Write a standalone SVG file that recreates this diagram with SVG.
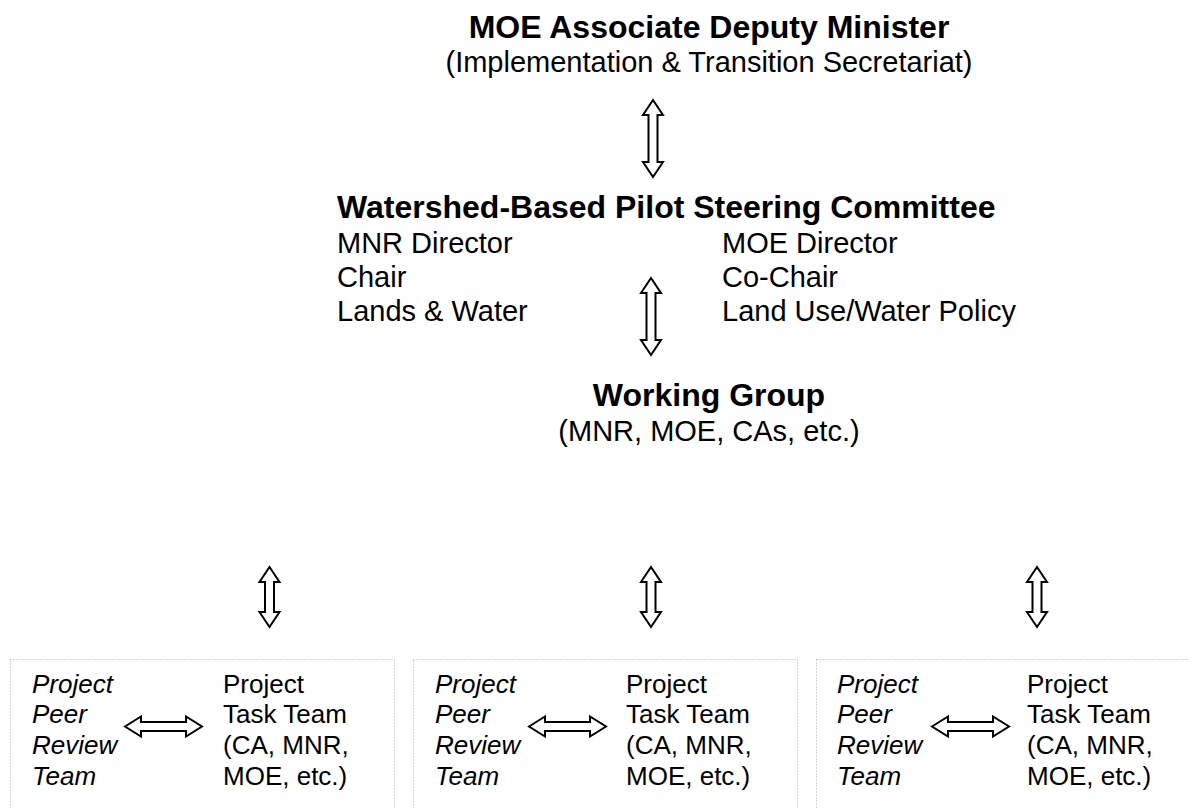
<svg xmlns="http://www.w3.org/2000/svg" xmlns:xlink="http://www.w3.org/1999/xlink" width="1189" height="808" viewBox="0 0 1189 808">
<style>
text{font-family:"Liberation Sans",Arial,sans-serif;fill:#000}
.b{font-weight:bold;font-size:32px}
.r{font-size:29px}
.s{font-size:26px}
.i{font-size:26px;font-style:italic}
.c{text-anchor:middle}
.arr{fill:#fff;stroke:#000;stroke-width:2;stroke-linejoin:miter}
.box{fill:none;stroke:#aaa;stroke-width:1;stroke-dasharray:1 2}
</style>
<defs>
<path id="va" class="arr" d="M0,0 L10,15 L4.5,15 L4.5,62 L10,62 L0,77 L-10,62 L-4.5,62 L-4.5,15 L-10,15 Z"/>
<path id="vb" class="arr" d="M0,0 L10,15 L4.5,15 L4.5,45 L10,45 L0,60 L-10,45 L-4.5,45 L-4.5,15 L-10,15 Z"/>
<path id="ha" class="arr" d="M0,0 L16,-10 L16,-4.5 L61,-4.5 L61,-10 L77,0 L61,10 L61,4.5 L16,4.5 L16,10 Z"/>
</defs>
<rect width="1189" height="808" fill="#fff"/>
<g id="moe">
<text class="b c" x="709" y="38">MOE Associate Deputy Minister</text>
<text class="r c" x="709" y="72">(Implementation &amp; Transition Secretariat)</text>
</g>
<g id="steering">
<text class="b" x="337" y="218">Watershed-Based Pilot Steering Committee</text>
<text class="r" x="337" y="253">MNR Director</text>
<text class="r" x="337" y="287">Chair</text>
<text class="r" x="337" y="321">Lands &amp; Water</text>
<text class="r" x="722" y="253">MOE Director</text>
<text class="r" x="722" y="287">Co-Chair</text>
<text class="r" x="722" y="321">Land Use/Water Policy</text>
</g>
<g id="working">
<text class="b c" x="709" y="406">Working Group</text>
<text class="r c" x="709" y="441">(MNR, MOE, CAs, etc.)</text>
</g>
<g id="team1">
<rect class="box" x="10.5" y="659.5" width="384" height="160"/>
<text class="i"><tspan x="32" y="693">Project</tspan><tspan x="32" y="723">Peer</tspan><tspan x="32" y="754">Review</tspan><tspan x="32" y="785">Team</tspan></text>
<text class="s"><tspan x="223" y="693">Project</tspan><tspan x="223" y="723">Task Team</tspan><tspan x="223" y="754">(CA, MNR,</tspan><tspan x="223" y="785">MOE, etc.)</tspan></text>
</g>
<g id="team2">
<rect class="box" x="413.5" y="659.5" width="384" height="160"/>
<text class="i"><tspan x="435" y="693">Project</tspan><tspan x="435" y="723">Peer</tspan><tspan x="435" y="754">Review</tspan><tspan x="435" y="785">Team</tspan></text>
<text class="s"><tspan x="626" y="693">Project</tspan><tspan x="626" y="723">Task Team</tspan><tspan x="626" y="754">(CA, MNR,</tspan><tspan x="626" y="785">MOE, etc.)</tspan></text>
</g>
<g id="team3">
<rect class="box" x="816.5" y="659.5" width="400" height="160"/>
<text class="i"><tspan x="837" y="693">Project</tspan><tspan x="837" y="723">Peer</tspan><tspan x="837" y="754">Review</tspan><tspan x="837" y="785">Team</tspan></text>
<text class="s"><tspan x="1027" y="693">Project</tspan><tspan x="1027" y="723">Task Team</tspan><tspan x="1027" y="754">(CA, MNR,</tspan><tspan x="1027" y="785">MOE, etc.)</tspan></text>
</g>
<g id="connectors">
<use xlink:href="#va" x="653" y="100"/>
<use xlink:href="#va" x="651" y="278"/>
<use xlink:href="#vb" x="269.5" y="567"/>
<use xlink:href="#vb" x="651" y="567"/>
<use xlink:href="#vb" x="1037" y="567"/>
<use xlink:href="#ha" x="125" y="726.5"/>
<use xlink:href="#ha" x="529" y="726.5"/>
<use xlink:href="#ha" x="932" y="726.5"/>
</g>
</svg>
